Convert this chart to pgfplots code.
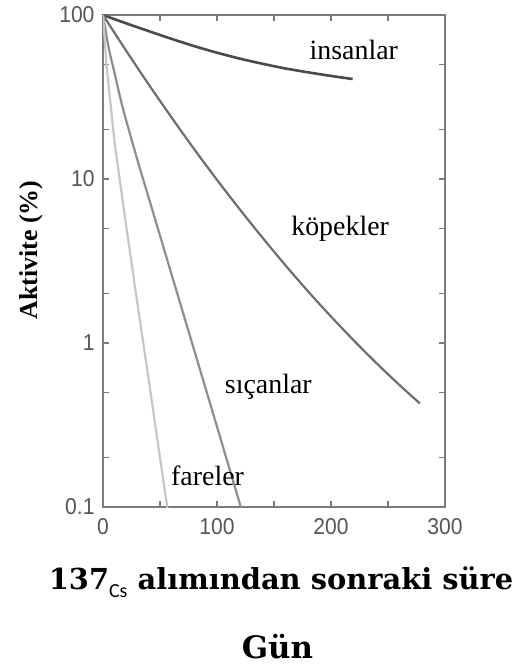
\documentclass[border=0pt]{standalone}
\usepackage{fontspec}
\setmainfont{Liberation Serif}
\newfontfamily\ticksf{Liberation Sans}[FakeStretch=0.92]
\newfontfamily\titlefont{DejaVu Serif}
\newfontfamily\subsf{Carlito}
\usepackage{pgfplots}
\pgfplotsset{compat=1.18}
\definecolor{humanc}{HTML}{4A4A4A}
\definecolor{dogc}{HTML}{6E6E6E}
\definecolor{ratc}{HTML}{8E8E8E}
\definecolor{mousec}{HTML}{C6C6C6}
\definecolor{framec}{HTML}{7A7A7A}
\definecolor{tickc}{HTML}{555555}
\begin{document}
\begin{tikzpicture}
\useasboundingbox (0,0) rectangle (524bp,665bp);
\begin{axis}[
  at={(103bp,158bp)}, anchor=south west,
  scale only axis, width=342bp, height=492bp,
  xmin=0, xmax=300, ymode=log, ymin=0.1, ymax=100,
  xtick={0,100,200,300}, xticklabels={0,100,200,300},
  minor xtick={50,150,250},
  ytick={0.1,1,10,100}, yticklabels={0.1,1,10,100},
  minor ytick={0.2,0.5,2,5,20,50},
  tick align=inside, major tick length=6bp, minor tick length=6bp,
  tick style={framec, line width=1.2bp},
  axis line style={framec, line width=1.6bp},
  /pgf/number format/assume math mode=true,
  ticklabel style={font=\ticksf\fontsize{23}{23}\selectfont, text=tickc},
  xticklabel style={yshift=-8bp},
  yticklabel style={xshift=-5bp},
  ylabel={Aktivite (\%)},
  ylabel style={font=\bfseries\fontsize{26}{26}\selectfont, at={(axis description cs:-0.2105,0.522)}, anchor=center},
  clip=true,
]
\addplot[humanc, line width=2.6bp, smooth] coordinates {
  (0,100) (20,89.1) (40,79.8) (60,71.6) (80,64.6) (100,58.9) (120,54.2) (140,50.4) (160,47.2) (180,44.7) (200,42.5) (219,40.7)};
\addplot[dogc, line width=2.2bp, smooth] coordinates {
  (0,100) (20,61.0) (40,37.8) (60,23.8) (80,15.2) (100,9.88) (120,6.53) (140,4.38) (160,2.98) (180,2.06) (200,1.45) (220,1.036) (240,0.752) (260,0.555) (278,0.428)};
\addplot[ratc, line width=2.2bp, smooth] coordinates {
  (0,100) (5,63.1) (10,44.7) (17.5,26.9) (30,13.2) (40,7.73) (60,2.64) (80,0.904) (100,0.309) (121,0.0995)};
\addplot[mousec, line width=2.2bp] coordinates {
  (0,100) (1.5,71) (3,50.1) (6,31.6) (10,17.0) (20,5.37) (30,1.78) (40,0.603) (50,0.2) (57,0.093)};
\node[font=\fontsize{28}{28}\selectfont] at (axis cs:220,61.2) {insanlar};
\node[font=\fontsize{28}{28}\selectfont] at (axis cs:208,4.95) {köpekler};
\node[font=\fontsize{28}{28}\selectfont] at (axis cs:145,0.54) {sıçanlar};
\node[font=\fontsize{28}{28}\selectfont] at (axis cs:91.7,0.155) {fareler};
\end{axis}
\node[anchor=base, inner sep=0pt, font=\titlefont\bfseries\fontsize{29}{29}\selectfont] at (281bp,75bp)
  {137\raisebox{-0.25em}{\subsf\mdseries\fontsize{20}{20}\selectfont Cs} alımından sonraki süre};
\node[anchor=base, inner sep=0pt, font=\titlefont\bfseries\fontsize{31}{31}\selectfont] at (277.5bp,7bp) {Gün};
\end{tikzpicture}
\end{document}
